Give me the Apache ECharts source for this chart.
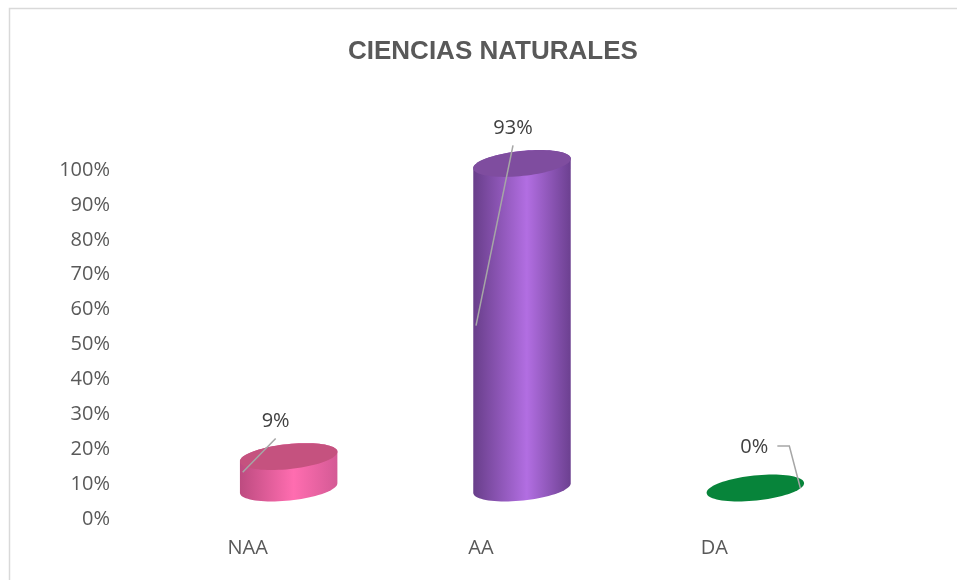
<!DOCTYPE html>
<html>
<head>
<meta charset="utf-8">
<script src="https://cdn.jsdelivr.net/npm/echarts@6/dist/echarts.min.js"></script>
<style>
  html, body { margin: 0; padding: 0; background: #fff; }
  #chart { width: 957px; height: 580px; }
</style>
</head>
<body>
<div id="chart"></div>
<script>
// datos
var categorias = ['NAA', 'AA', 'DA'];
var valores = [0.09, 0.93, 0.00];
var etiquetas = ['9%', '93%', '0%'];

// colores de cada cilindro: lado (oscuro, claro, oscuro) y tapa
var colores = [
    { side: ['#bd4b80', '#ff6db0', '#d45a95'], top: '#c5527f' },
    { side: ['#683e8a', '#b26ee2', '#6c4090'], top: '#7f4d9f' },
    { side: ['#07843a', '#07843a', '#07843a'], top: '#07843a' }
];

var chart = echarts.init(document.getElementById('chart'));

// desplazamiento del efecto 3D respecto a los ejes
var dx = 41, dy = -31;
var rx = 49, ry = 12.5, tilt = -6 * Math.PI / 180;

function elipse(cx, cy, t0, t1, n) {
    var pts = [];
    for (var i = 0; i <= n; i++) {
        var t = t0 + (t1 - t0) * i / n;
        var x = rx * Math.cos(t), y = ry * Math.sin(t);
        pts.push([cx + x * Math.cos(tilt) - y * Math.sin(tilt),
                  cy + x * Math.sin(tilt) + y * Math.cos(tilt)]);
    }
    return pts;
}

function cilindro(params, api) {
    var i = params.dataIndex;
    var base = api.coord([api.value(0), 0]);
    var tope = api.coord([api.value(0), api.value(1)]);
    var cx = base[0] + dx, by = base[1] + dy, ty = tope[1] + dy;
    var c = colores[i];
    var hijos = [];

    if (by - ty > 1) {
        var lado = elipse(cx, by, 0, Math.PI, 40).concat(elipse(cx, ty, Math.PI, 2 * Math.PI, 40));
        hijos.push({
            type: 'polygon',
            shape: { points: lado },
            style: {
                fill: new echarts.graphic.LinearGradient(0, 0, 1, 0, [
                    { offset: 0, color: c.side[0] },
                    { offset: 0.55, color: c.side[1] },
                    { offset: 1, color: c.side[2] }
                ])
            }
        });
    }
    hijos.push({
        type: 'polygon',
        shape: { points: elipse(cx, ty, 0, 2 * Math.PI, 80) },
        style: { fill: c.top }
    });

    // etiqueta y linea guia
    var medio = (ty + by) / 2;
    var tx, tyLab, linea;
    if (by - ty > 1) {
        tx = cx - (i === 0 ? 13 : 9);
        tyLab = ty - 35;
        linea = [[tx, ty - 18], [cx - 46, medio]];
    } else {
        tx = cx - 1;
        tyLab = by - 41;
        linea = [[cx + 22, by - 42], [cx + 34, by - 42], [cx + 45, by]];
    }
    hijos.push({
        type: 'polyline',
        shape: { points: linea },
        style: { stroke: '#a6a6a6', lineWidth: 1.5, fill: null }
    });
    hijos.push({
        type: 'text',
        style: {
            text: etiquetas[i], x: tx, y: tyLab,
            align: 'center', verticalAlign: 'middle',
            fill: '#404040', font: '20px "Open Sans", sans-serif'
        }
    });
    return { type: 'group', children: hijos };
}

var option = {
    backgroundColor: '#fff',
    animation: false,
    title: {
        text: 'CIENCIAS NATURALES',
        left: 343,
        top: 34,
        textStyle: {
            color: '#595959',
            fontSize: 26,
            fontWeight: 'bold',
            fontFamily: '"Liberation Sans", sans-serif'
        }
    },
    graphic: [{
        type: 'rect',
        shape: { x: 9.5, y: 8.5, width: 960, height: 600 },
        style: { fill: null, stroke: '#d9d9d9', lineWidth: 1.5 }
    }],
    grid: { left: 131, right: 126, top: 170, bottom: 61 },
    xAxis: {
        type: 'category',
        data: categorias,
        axisLine: { show: false },
        axisTick: { show: false },
        axisLabel: { color: '#595959', fontSize: 20, fontFamily: '"Open Sans", sans-serif', margin: 19 }
    },
    yAxis: {
        type: 'value',
        min: 0,
        max: 1,
        interval: 0.1,
        splitLine: { show: false },
        axisLine: { show: false },
        axisTick: { show: false },
        axisLabel: {
            color: '#595959', fontSize: 20, fontFamily: '"Open Sans", sans-serif', margin: 21,
            formatter: function (v) { return Math.round(v * 100) + '%'; }
        }
    },
    series: [{
        type: 'custom',
        renderItem: cilindro,
        data: valores.map(function (v, i) { return [i, v]; }),
        clip: false
    }]
};
chart.setOption(option);
</script>
</body>
</html>
